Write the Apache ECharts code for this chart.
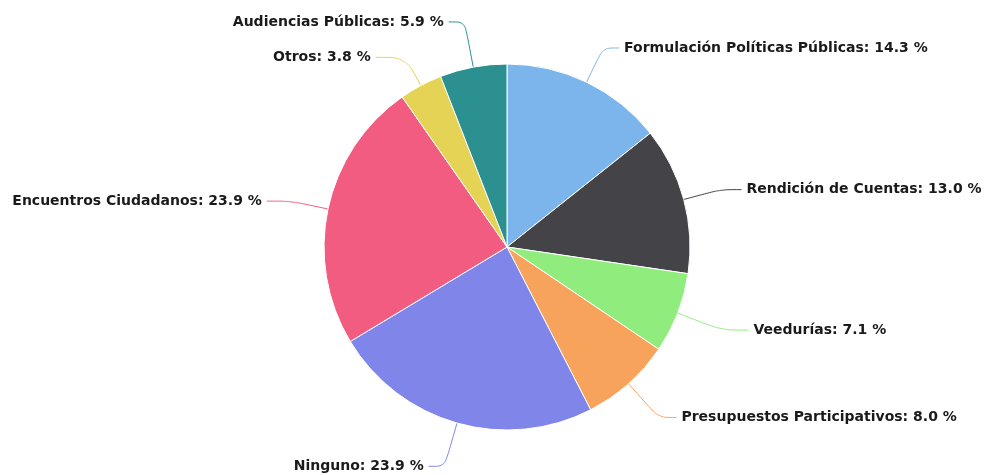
<!DOCTYPE html>
<html>
<head>
<meta charset="utf-8">
<script src="https://cdn.jsdelivr.net/npm/echarts@6/dist/echarts.min.js"></script>
<style>
  html, body { margin: 0; padding: 0; background: #fff; }
  #chart { width: 987px; height: 475px; }
</style>
</head>
<body>
<div id="chart"></div>
<script>
const categories = [
  'Formulación Políticas Públicas',
  'Rendición de Cuentas',
  'Veedurías',
  'Presupuestos Participativos',
  'Ninguno',
  'Encuentros Ciudadanos',
  'Otros',
  'Audiencias Públicas'
]
const values = [14.3, 13.0, 7.1, 8.0, 23.9, 23.9, 3.8, 5.9]
const colors = ['#7cb5ec', '#434348', '#90ed7d', '#f7a35c', '#8085e9', '#f15c80', '#e4d354', '#2b908f']
// connector lengths per slice [radial, horizontal]
const connectors = [[38, 16], [38, 21], [47, 27], [45, 18], [45, 16], [38, 24], [32, 30], [46, 16]]

const chart = echarts.init(document.getElementById('chart'))
chart.setOption({
  animation: false,
  color: colors,
  series: [
    {
      type: 'pie',
      center: [507, 247],
      radius: 183,
      startAngle: 90,
      clockwise: true,
      data: categories.map((name, i) => ({
        name: name,
        value: values[i],
        labelLine: { length: connectors[i][0], length2: connectors[i][1] }
      })),
      itemStyle: {
        borderColor: '#fff',
        borderWidth: 1
      },
      label: {
        formatter: p => p.name + ': ' + p.value.toFixed(1) + ' %',
        color: '#1a1a1a',
        fontFamily: 'DejaVu Sans',
        fontWeight: 'bold',
        fontSize: 14,
        overflow: 'none'
      },
      labelLine: {
        smooth: 0.3,
        lineStyle: { width: 1 }
      }
    }
  ]
})
</script>
</body>
</html>
